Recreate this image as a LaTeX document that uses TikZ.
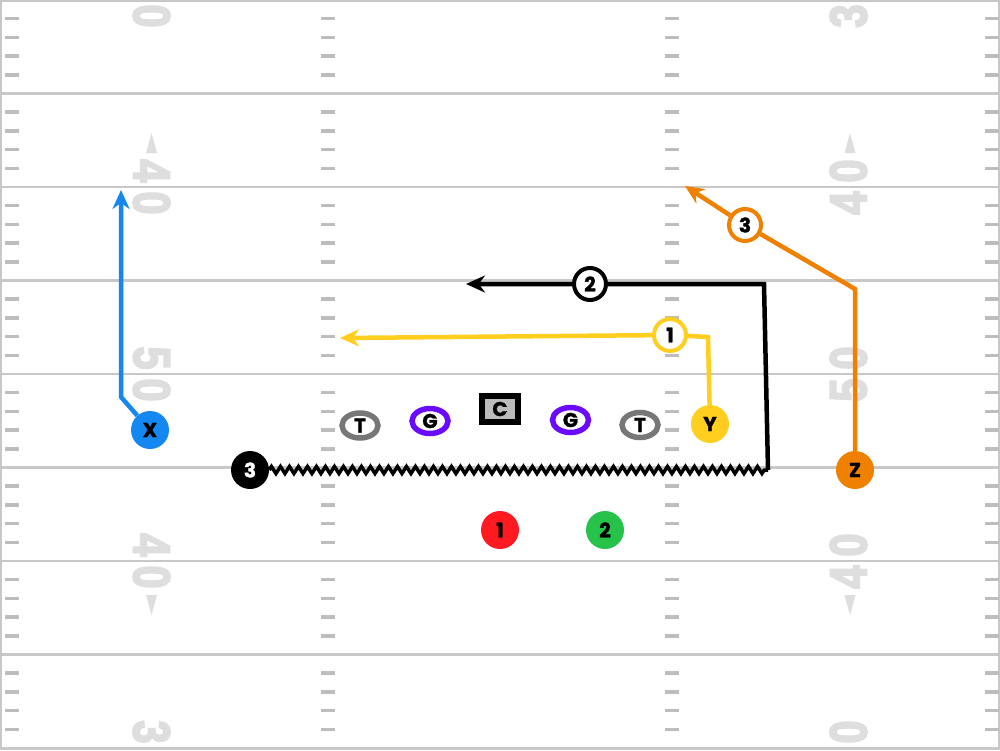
\documentclass[tikz,border=0pt]{standalone}
\usepackage{fontspec}
\setmainfont{Poppins}[BoldFeatures={FakeBold=1.5}]
\newfontfamily\yardfont{Liberation Sans}[BoldFeatures={FakeBold=4}]
\usetikzlibrary{shapes.geometric,arrows.meta,decorations.pathmorphing}
\definecolor{fieldline}{HTML}{C8C8C8}
\definecolor{hashgray}{HTML}{BDBDBD}
\definecolor{yardgray}{HTML}{DEDEDE}
\definecolor{xblue}{HTML}{1487F0}
\definecolor{yyellow}{HTML}{FFCE1E}
\definecolor{zorange}{HTML}{F08000}
\definecolor{onered}{HTML}{FF1A22}
\definecolor{twogreen}{HTML}{26C24A}
\definecolor{guardpurple}{HTML}{6A0AFF}
\definecolor{tacklegray}{HTML}{777777}
\definecolor{centergray}{HTML}{BBBBBB}
\begin{document}
\begin{tikzpicture}[x=1pt,y=-1pt,>={Stealth[length=19pt,width=17pt]},
	font=\fontsize{20}{20}\selectfont\bfseries,
	yardnum/.style={inner sep=0pt,text=yardgray,font=\yardfont\bfseries\fontsize{52}{52}\selectfont},
	player/.style={circle,inner sep=0pt,minimum size=38pt},
	routelab/.style={circle,draw,line width=4pt,fill=white,inner sep=0pt,minimum size=32pt},
	lineman/.style={ellipse,line width=5.5pt,fill=white,inner sep=0pt,minimum width=36pt,minimum height=25pt},
	route/.style={line width=4.5pt}]
	\useasboundingbox (0,0) rectangle (1000,750);
	\clip (0,0) rectangle (1000,750);
	\fill[white] (0,0) rectangle (1000,750);
	\foreach \s in {1,...,7}
		\draw[fieldline,line width=2.5pt] (0,93.5*\s) -- (1000,93.5*\s);
	\draw[fieldline,line width=2.5pt] (1,1) rectangle (999,748.5);
	\foreach \s in {0,...,7}
		\foreach \k in {1,...,4}
			\foreach \hx in {5,321,665,985}
				\draw[hashgray,line width=3.5pt] (\hx,93.5*\s+18.7*\k) -- (\hx+14,93.5*\s+18.7*\k);
	\foreach \nx/\ny/\rot/\d [count=\n] in {151.5/16/-90/0,151.5/171/-90/4,151.5/203/-90/0,151.5/358/-90/5,
		151.5/390/-90/0,151.5/545/-90/4,151.5/577/-90/0,151.5/732/-90/3,
		848.5/16/90/3,848.5/171/90/0,848.5/203/90/4,848.5/358/90/0,
		848.5/390/90/5,848.5/545/90/0,848.5/577/90/4,848.5/732/90/0}
		\node[yardnum,rotate=\rot] (num\n) at (\nx,\ny) {\scalebox{0.8}[1]{\d}};
	\foreach \tx in {151.5,850}{
		\fill[yardgray] (\tx,133) -- (\tx+5.5,153) -- (\tx-5.5,153) -- cycle;
		\fill[yardgray] (\tx,615) -- (\tx+5.5,595) -- (\tx-5.5,595) -- cycle;
	}
	\node[lineman,draw=tacklegray] (LT) at (360,425.5) {T};
	\node[lineman,draw=guardpurple] (LG) at (430,421) {G};
	\node[rectangle,draw=black,line width=5.5pt,fill=centergray,inner sep=0pt,minimum width=36pt,minimum height=26pt] (C) at (500,409) {C};
	\node[lineman,draw=guardpurple] (RG) at (570.5,420) {G};
	\node[lineman,draw=tacklegray] (RT) at (640,425) {T};
	\node[player,fill=xblue] (X) at (150,430) {X};
	\node[player,fill=yyellow] (Y) at (710,424) {Y};
	\node[player,fill=zorange] (Z) at (855,470) {Z};
	\node[player,fill=black,text=white] (B3) at (250,470) {3};
	\node[player,fill=onered] (P1) at (500,530) {1};
	\node[player,fill=twogreen] (P2) at (605,530) {2};
	\node[routelab,draw=yyellow] (R1) at (670,335) {1};
	\node[routelab,draw=black] (R2) at (590,284) {2};
	\node[routelab,draw=zorange] (R3) at (745,225) {3};
	\coordinate (Xbreak) at (121,397);
	\coordinate (Xend) at (121,190);
	\coordinate (Ybreak) at (708,337);
	\coordinate (Yend) at (340,338);
	\coordinate (Bturn) at (768,470);
	\coordinate (Bcorner) at (764,284);
	\coordinate (Bend) at (466,284);
	\coordinate (Zbreak) at (855,289);
	\coordinate (Zend) at (685,186);
	\draw[route,xblue,->] (X) -- (Xbreak) -- (Xend);
	\draw[route,yyellow,->] (Y) -- (Ybreak) -- (R1) -- (Yend);
	\draw[route,line width=3.5pt,decorate,decoration={zigzag,amplitude=3.5pt,segment length=9pt}] (B3) -- (Bturn);
	\draw[route,->] (Bturn) -- (Bcorner) -- (R2) -- (Bend);
	\draw[route,zorange,->] (Z) -- (Zbreak) -- (R3) -- (Zend);
\end{tikzpicture}
\end{document}
